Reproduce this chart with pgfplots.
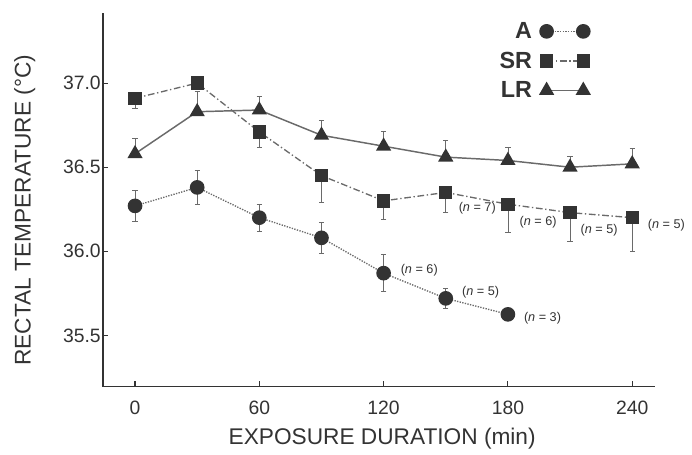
\documentclass[border=0pt]{standalone}
\usepackage{pgfplots}
\usepackage{pgfplotstable}
\pgfplotsset{compat=1.18}
\usepackage{fontspec}
\setmainfont{Liberation Sans}
\definecolor{ink}{HTML}{333333}
\definecolor{ln}{HTML}{6A6A6A}

% group A (circles), two-sided error
\pgfplotstableread{
t   v      e
0   36.27  0.09
30  36.38  0.10
60  36.20  0.08
90  36.08  0.09
120 35.87  0.11
150 35.72  0.06
180 35.625 0.0
}\dataA
% group SR (squares), error shown downward
\pgfplotstableread{
t   v      e
0   36.91  0.06
30  37.00  0.0
60  36.71  0.09
90  36.45  0.16
120 36.30  0.11
150 36.35  0.12
180 36.28  0.17
210 36.23  0.17
240 36.20  0.20
}\dataSR
% group LR (triangles), error shown upward
\pgfplotstableread{
t   v      e
0   36.58  0.09
30  36.83  0.12
60  36.84  0.08
90  36.69  0.09
120 36.625 0.09
150 36.56  0.10
180 36.54  0.08
210 36.50  0.065
240 36.52  0.09
}\dataLR

\begin{document}
\begin{tikzpicture}
\begin{axis}[
  scale only axis, width=414pt, height=280pt,
  xmin=-15.6, xmax=251, ymin=35.196, ymax=37.417,
  clip=false,
  axis x line*=bottom, axis y line*=left,
  axis line style={ink, line width=1.2pt},
  xtick={0,60,120,180,240}, ytick={35.5,36,36.5,37},
  tick align=inside, major tick length=4pt, tick style={ink, line width=0.8pt},
  yticklabel style={xshift=2pt, /pgf/number format/.cd, fixed, fixed zerofill, precision=1},
  /pgf/number format/assume math mode=true,
  ticklabel style={font=\fontsize{14.5}{16}\selectfont, text=ink},
  xticklabel style={yshift=-7.5pt},
  xlabel={EXPOSURE DURATION (min)},
  ylabel={RECTAL TEMPERATURE (°C)},
  label style={font=\fontsize{17}{19}\selectfont, text=ink},
  xlabel style={at={(axis description cs:0.506,-0.139)}, anchor=center},
  ylabel style={at={(axis description cs:-0.141,0.472)}, anchor=center},
  legend style={at={(0.89,0.99)}, anchor=north east, draw=none, fill=none,
    font=\fontsize{17.5}{19}\bfseries\selectfont, text=ink, row sep=4.5pt},
  legend cell align=right,
  legend plot pos=right,
  legend image code/.code={
    \path[draw=none, fill=none] (0pt,-1pt) rectangle (1pt,1pt);
    \draw[#1] plot coordinates {(9pt,0pt) (36.5pt,0pt)};},
  error bars/error bar style={ln, line width=0.6pt, solid},
  error bars/error mark options={rotate=90, mark size=2pt, ln, line width=0.6pt},
]
\addplot[ln, densely dotted, line width=1pt, mark=*, mark size=5pt,
  mark options={solid, fill=ink, draw=ink},
  error bars/.cd, y dir=both, y explicit]
  table[x=t, y=v, y error=e] {\dataA};
\addlegendentry{A}
\addplot[ln, dash pattern=on 5pt off 2pt on 1pt off 2pt, line width=1pt, mark=square*, mark size=4.5pt,
  mark options={solid, fill=ink, draw=ink},
  error bars/.cd, y dir=minus, y explicit]
  table[x=t, y=v, y error=e] {\dataSR};
\addlegendentry{SR}
\addplot[ln, solid, line width=1.1pt, mark=triangle*, mark size=5.5pt,
  mark options={solid, fill=ink, draw=ink},
  error bars/.cd, y dir=plus, y explicit]
  table[x=t, y=v, y error=e] {\dataLR};
\addlegendentry{LR}

\begin{scope}[every node/.style={anchor=west, font=\fontsize{9.5}{10}\selectfont, text=ink}]
\node at (axis cs:154,36.256) {(\textit{n} = 7)};
\node at (axis cs:183.4,36.17) {(\textit{n} = 6)};
\node at (axis cs:212.8,36.125) {(\textit{n} = 5)};
\node at (axis cs:245.3,36.155) {(\textit{n} = 5)};
\node at (axis cs:126,35.89) {(\textit{n} = 6)};
\node at (axis cs:155.6,35.754) {(\textit{n} = 5)};
\node at (axis cs:185.5,35.605) {(\textit{n} = 3)};
\end{scope}

\coordinate (SW) at (rel axis cs:0,0);
\coordinate (NE) at (rel axis cs:1,1);
\end{axis}
\path (SW) ++(-77pt,-51pt) coordinate (bbA);
\path (NE) ++(27.75pt,9.75pt) coordinate (bbB);
\pgfresetboundingbox
\path[use as bounding box] (bbA) rectangle (bbB);
\end{tikzpicture}
\end{document}
